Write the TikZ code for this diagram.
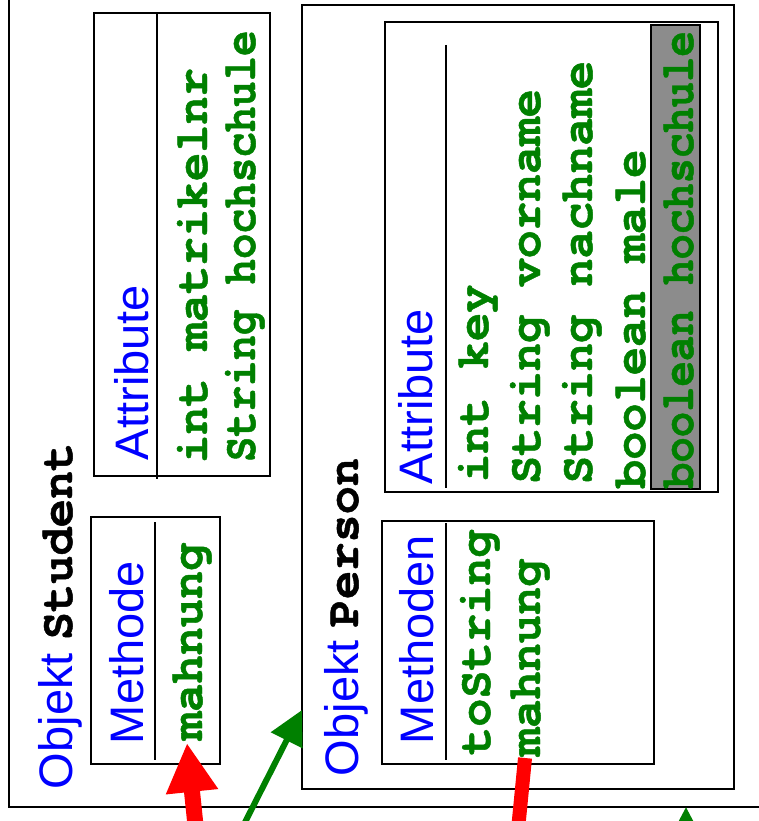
\documentclass[tikz,border=0pt]{standalone}
\usepackage{fontspec}
\setmainfont{Liberation Sans}
\setmonofont{TeX Gyre Cursor}[BoldFeatures={FakeBold=1}]
\usetikzlibrary{arrows.meta}
\definecolor{objblue}{RGB}{0,0,255}
\definecolor{codegreen}{RGB}{0,128,0}
\definecolor{arrred}{RGB}{255,0,0}
\definecolor{hlgray}{RGB}{140,140,140}
\begin{document}
\begin{tikzpicture}[x=1pt,y=-1pt,
  box/.style={draw=black, line width=2.5pt, inner sep=0pt, outer sep=0pt, anchor=north west, fill=white},
  sepline/.style={line width=2.5pt},
  lbl/.style={rotate=90, anchor=base west, inner sep=0pt, outer sep=0pt, font=\fontsize{47}{56}\selectfont},
  head/.style={lbl, text=objblue},
  code/.style={lbl, text=codegreen, font=\fontsize{47}{56}\selectfont\ttfamily\bfseries},
  redarrow/.style={draw=arrred, line width=16pt, -{Triangle[width=49pt,length=49pt]}},
  redline/.style={draw=arrred, line width=14pt},
  greenarrow/.style={draw=codegreen, line width=6pt, -{Triangle[width=34pt,length=34pt]}}
]
\useasboundingbox (0,0) rectangle (759,821);
\clip (0,0) rectangle (759,821);

% Objekt Student
\node[box, minimum width=900pt, minimum height=900pt] (student) at (9,-93) {};
\node[box, minimum width=176pt, minimum height=463pt] (sattr) at (94,13) {};
\draw[sepline] (157,13) -- (157,479);
\node[box, minimum width=129pt, minimum height=247pt] (smeth) at (91,517) {};
\draw[sepline] (155,522) -- (155,760);

\node[lbl] (stitle) at (72,789) {\textcolor{objblue}{Objekt} {\ttfamily\bfseries Student}};
\node[head] (sattrh) at (148,460) {Attribute};
\node[code] (smatr) at (207,463) {int matrikelnr};
\node[code] (shoch) at (255,462) {\scalebox{0.9}[1]{String hochschule}};
\node[head] (smethh) at (143,744) {Methode};
\node[code] (smahn) at (202,740) {mahnung};

% Objekt Person
\node[box, minimum width=432pt, minimum height=784pt] (person) at (302,5) {};
\node[box, minimum width=333pt, minimum height=470pt] (pattr) at (385,22) {};
\draw[sepline] (446,45) -- (446,488);
\node[box, fill=hlgray, minimum width=49pt, minimum height=464pt] (hl) at (651,25) {};
\node[box, minimum width=272pt, minimum height=243pt] (pmeth) at (382,521) {};
\draw[sepline] (446,523) -- (446,760);

\node[lbl] (ptitle) at (358,776) {\textcolor{objblue}{Objekt} {\ttfamily\bfseries Person}};
\node[head] (pattrh) at (432,484) {Attribute};
\node[code] (pkey) at (488,482) {int key};
\node[code] (pvor) at (540,484) {String vorname};
\node[code] (pnach) at (592,484) {String nachname};
\node[code] (pmale) at (645,488) {boolean male};
\node[code] (phoch) at (693,488) {\scalebox{0.9}[1]{boolean hochschule}};
\node[head] (pmethh) at (433,744) {Methoden};
\node[code] (ptostr) at (490,755) {toString};
\node[code] (pmahn) at (540,756) {mahnung};

% connectors
\coordinate (redA) at (197,840);
\coordinate (redtip) at (187,743);
\draw[redarrow] (redA) -- (redtip);
\coordinate (redB) at (517,840);
\coordinate (redtop) at (525,758);
\draw[redline] (redB) -- (redtop);
\coordinate (grA) at (236,840);
\coordinate (grtip) at (302,710);
\draw[greenarrow] (grA) -- (grtip);
\coordinate (grB) at (686,900);
\coordinate (grtip2) at (686,807);
\draw[greenarrow] (grB) -- (grtip2);
\end{tikzpicture}
\end{document}
